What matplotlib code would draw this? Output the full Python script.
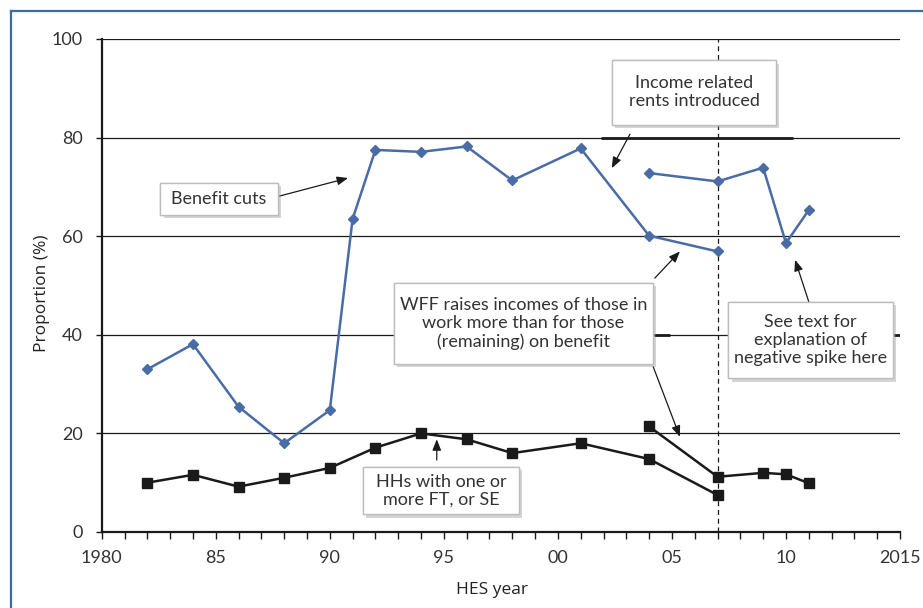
import matplotlib
matplotlib.use('Agg')
import matplotlib.pyplot as plt
import matplotlib.patheffects as pe
from matplotlib.patches import Rectangle
from matplotlib.lines import Line2D
from matplotlib.ticker import MultipleLocator

# --- data --------------------------------------------------------------------
blue_years_a = [1982, 1984, 1986, 1988, 1990, 1991, 1992, 1994, 1996, 1998, 2001, 2004, 2007]
blue_vals_a  = [33.0, 38.1, 25.4, 18.0, 24.7, 63.5, 77.5, 77.1, 78.2, 71.3, 77.8, 60.1, 56.9]
blue_years_b = [2004, 2007, 2009, 2010, 2011]
blue_vals_b  = [72.8, 71.1, 73.9, 58.6, 65.3]

black_years_a = [1982, 1984, 1986, 1988, 1990, 1992, 1994, 1996, 1998, 2001, 2004, 2007]
black_vals_a  = [10.0, 11.6, 9.2, 11.0, 13.0, 17.1, 20.0, 18.8, 16.0, 18.0, 14.8, 7.5]
black_years_b = [2004, 2007, 2009, 2010, 2011]
black_vals_b  = [21.4, 11.2, 12.0, 11.7, 9.9]

x_major = [1980, 1985, 1990, 1995, 2000, 2005, 2010, 2015]
x_labels = ['1980', '85', '90', '95', '00', '05', '10', '2015']
y_ticks = [0, 20, 40, 60, 80, 100]
policy_year = 2007

BLUE = '#4a6ca6'
INK = '#1a1a1a'
TXT = '#333333'

fig = plt.figure(figsize=(9.23, 6.08), dpi=100)
ax = fig.add_axes([0.1102, 0.125, 0.8649, 0.8109])

# outer frame (only left/top visible in the crop)
fig.add_artist(Line2D([0.012, 0.012], [0, 0.982], transform=fig.transFigure, color='#3d6aa8', lw=1.6))
fig.add_artist(Line2D([0.012, 1.0], [0.982, 0.982], transform=fig.transFigure, color='#3d6aa8', lw=1.6))

ax.set_xlim(1980, 2015)
ax.set_ylim(0, 100)

for y in y_ticks[1:]:
    ax.axhline(y, color=INK, lw=0.9, zorder=1)
# heavier bits of gridline left by the original text boxes
ax.hlines(80, 2001.9, 2010.3, color=INK, lw=2.0, zorder=1)
ax.hlines(40, 2004.2, 2004.9, color=INK, lw=2.0, zorder=1)
ax.hlines(40, 2014.7, 2015.0, color=INK, lw=2.0, zorder=1)

ax.axvline(policy_year, color=INK, lw=0.9, ls=(0, (4, 3)), zorder=1)

ax.plot(blue_years_a, blue_vals_a, color=BLUE, lw=1.8, marker='D', ms=5, zorder=3)
ax.plot(blue_years_b, blue_vals_b, color=BLUE, lw=1.8, marker='D', ms=5, zorder=3)
ax.plot(black_years_a, black_vals_a, color=INK, lw=1.8, marker='s', ms=6.5, zorder=3)
ax.plot(black_years_b, black_vals_b, color=INK, lw=1.8, marker='s', ms=6.5, zorder=3)

for s in ['top', 'right']:
    ax.spines[s].set_visible(False)
for s in ['left', 'bottom']:
    ax.spines[s].set_linewidth(1.6)
    ax.spines[s].set_color(INK)
    ax.spines[s].set_zorder(4)

ax.set_xticks(x_major)
ax.set_xticklabels(x_labels)
ax.xaxis.set_minor_locator(MultipleLocator(1))
ax.set_yticks(y_ticks)
ax.tick_params(axis='x', which='both', length=5, width=1, color=INK, pad=8,
               labelsize=13, labelcolor=TXT)
ax.tick_params(axis='y', length=4.5, width=1, color=INK, pad=9,
               labelsize=13, labelcolor=TXT)
for lab in ax.get_xticklabels() + ax.get_yticklabels():
    lab.set_family('Lato')

ax.text(-0.075, 0.485, 'Proportion (%)', transform=ax.transAxes, rotation=90,
        ha='center', va='center', fontsize=12.5, family='Open Sans', color='#222222')
ax.text(0.489, -0.118, 'HES year', transform=ax.transAxes,
        ha='center', va='center', fontsize=12.5, family='Open Sans', color='#222222')

# --- annotation boxes ---------------------------------------------------------
shadow = [pe.withSimplePatchShadow(offset=(2.5, -2.5), shadow_rgbFace='#888888', alpha=0.35),
          pe.Normal()]


def note_box(x0, x1, y0, y1, text):
    r = Rectangle((x0, y0), x1 - x0, y1 - y0, facecolor='white', edgecolor='#bdbdbd',
                  lw=1.0, zorder=6)
    r.set_path_effects(shadow)
    ax.add_patch(r)
    ax.text((x0 + x1) / 2, (y0 + y1) / 2, text, ha='center', va='center',
            fontsize=13, family='Lato', color=TXT, linespacing=1.15, zorder=7)


def arrow(start, tip):
    ax.annotate('', xy=tip, xytext=start, zorder=5,
                arrowprops=dict(arrowstyle='-|>,head_length=0.55,head_width=0.22',
                                color=INK, lw=0.9, shrinkA=0, shrinkB=0,
                                mutation_scale=12))


note_box(1982.56, 1987.73, 64.3, 70.8, 'Benefit cuts')
arrow((1987.6, 67.9), (1990.8, 71.8))

note_box(2002.37, 2009.56, 82.6, 95.7, 'Income related\nrents introduced')
arrow((2003.16, 80.7), (2002.36, 73.8))

note_box(1992.81, 2004.16, 34.1, 50.5,
         'WFF raises incomes of those in\nwork more than for those\n(remaining) on benefit')
arrow((2004.25, 51.5), (2005.35, 56.9))
arrow((2004.18, 33.5), (2005.35, 19.3))

note_box(1991.45, 1998.29, 3.6, 13.2, 'HHs with one or\nmore FT, or SE')
arrow((1994.69, 14.6), (1994.69, 18.8))

note_box(2007.46, 2014.69, 31.2, 46.7, 'See text for\nexplanation of\nnegative spike here')
arrow((2011.0, 46.7), (2010.4, 55.2))

fig.savefig('out.png', dpi=100)
